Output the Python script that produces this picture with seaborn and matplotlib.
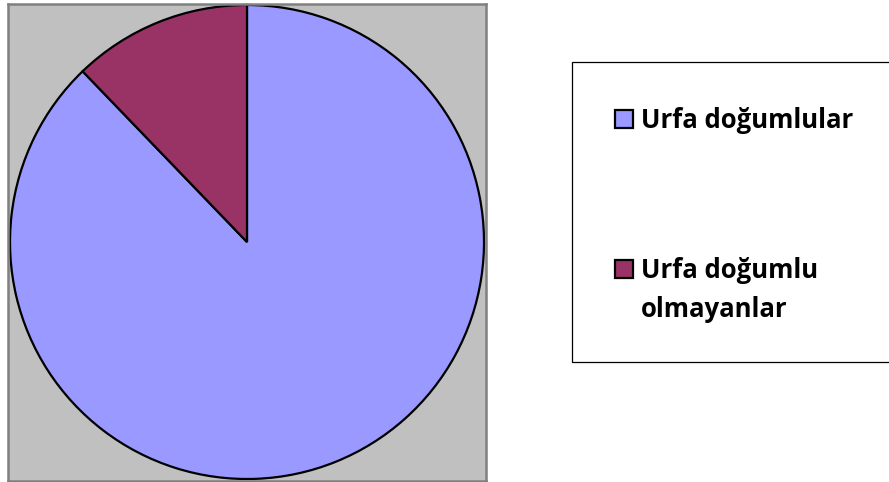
import matplotlib
matplotlib.use("Agg")
import matplotlib.pyplot as plt
from matplotlib.patches import Rectangle
import seaborn as sns

# data
labels = ["Urfa doğumlular", "Urfa doğumlu\nolmayanlar"]
values = [87.8, 12.2]
colors = ["#9999FF", "#993366"]

sns.set_style("white")
plt.rcParams["font.family"] = ["Open Sans", "DejaVu Sans"]

W, H = 889, 482
fig = plt.figure(figsize=(W / 100, H / 100), dpi=100)
fig.patch.set_facecolor("white")

# plot area (gray box) in pixel coords: x 8..486, y 4..481
x0, x1, y0, y1 = 8, 486, 4, 481
ax = fig.add_axes([x0 / W, 1 - y1 / H, (x1 - x0) / W, (y1 - y0) / H])
ax.pie(values, colors=colors, startangle=90, counterclock=False,
       radius=1.0, center=(0, 0),
       wedgeprops=dict(edgecolor="black", linewidth=1.6))
cx, cy, r = 247, 242, 237
ax.set_aspect("auto")
ax.set_xlim((x0 - cx) / r, (x1 - cx) / r)
ax.set_ylim(-(y1 - cy) / r, (cy - y0) / r)
ax.set_facecolor("#C0C0C0")
ax.set_frame_on(True)
for s in ax.spines.values():
    s.set_visible(True)
    s.set_color("#808080")
    s.set_linewidth(1.8)
ax.set_xticks([])
ax.set_yticks([])

# legend drawn in pixel space
lg = fig.add_axes([0, 0, 1, 1], facecolor="none")
lg.set_xlim(0, W)
lg.set_ylim(H, 0)
lg.axis("off")
lg.add_patch(Rectangle((571.5, 61.5), 330, 300, facecolor="white",
                       edgecolor="black", linewidth=0.9))
baselines = [128, 278]
for lab, col, yb in zip(labels, colors, baselines):
    lg.add_patch(Rectangle((614.5, yb - 18), 18, 18, facecolor=col,
                           edgecolor="black", linewidth=1.6))
    for i, line in enumerate(lab.split("\n")):
        lg.text(641, yb + i * 38.7, line, fontsize=18.5, fontweight="bold",
                va="baseline", ha="left", color="black")

fig.savefig("out.png", dpi=100)
